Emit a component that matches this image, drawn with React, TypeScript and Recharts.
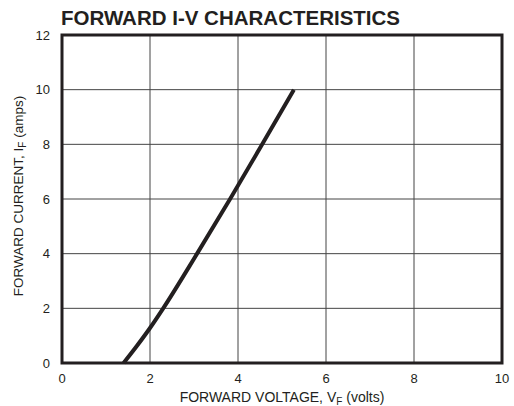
import React from "react";
import {
  LineChart,
  Line,
  XAxis,
  YAxis,
  CartesianGrid,
  ReferenceArea,
} from "recharts";

// forward voltage (V) vs forward current (A)
const voltage = [1.4, 1.7, 2.0, 2.3, 3.07, 3.82, 4.55, 5.27];
const current = [0, 0.62, 1.28, 2.0, 4.0, 6.0, 8.0, 10.0];

const xTicks = [0, 2, 4, 6, 8, 10];
const yTicks = [0, 2, 4, 6, 8, 10, 12];

const data = voltage.map((v, i) => ({ v, i: current[i] }));

const FONT = "'Liberation Sans', Arial, Helvetica, sans-serif";

const App: React.FC = () => {
  return (
    <div style={{ position: "fixed", left: 0, top: 0, width: 514, height: 406, background: "#fff" }}>
      <div
        style={{
          position: "absolute",
          left: 61,
          top: 6,
          fontFamily: FONT,
          fontWeight: "bold",
          fontSize: 20.5,
          color: "#231f20",
          lineHeight: "24px",
        }}
      >
        FORWARD I-V CHARACTERISTICS
      </div>
      <LineChart
        width={514}
        height={406}
        data={data}
        margin={{ top: 35, right: 12, bottom: 0, left: 0 }}
      >
        <CartesianGrid stroke="#444" strokeWidth={1} />
        <XAxis
          type="number"
          dataKey="v"
          domain={[0, 10]}
          ticks={xTicks}
          height={43}
          tickLine={false}
          axisLine={false}
          tick={{ fill: "#231f20", fontSize: 13, fontFamily: FONT }}
          tickMargin={5}
          label={({ viewBox }: any) => {
            const cx = viewBox.x + viewBox.width / 2;
            return (
              <text x={cx} y={402} textAnchor="middle" fill="#231f20" fontSize={14} fontFamily={FONT}>
                FORWARD VOLTAGE, V
                <tspan fontSize={10} dy={3}>F</tspan>
                <tspan dy={-3}> (volts)</tspan>
              </text>
            );
          }}
        />
        <YAxis
          type="number"
          domain={[0, 12]}
          ticks={yTicks}
          width={62}
          tickLine={false}
          axisLine={false}
          tick={{ fill: "#231f20", fontSize: 13, fontFamily: FONT }}
          tickMargin={6}
          label={() => (
            <text
              x={0}
              y={0}
              transform="translate(23, 196) rotate(-90)"
              textAnchor="middle"
              fill="#231f20"
              fontSize={13.5}
              fontFamily={FONT}
            >
              FORWARD CURRENT, I
              <tspan fontSize={10} dy={3}>F</tspan>
              <tspan dy={-3}> (amps)</tspan>
            </text>
          )}
        />
        <ReferenceArea
          x1={0}
          x2={10}
          y1={0}
          y2={12}
          fill="none"
          fillOpacity={0}
          stroke="#231f20"
          strokeWidth={3}
        />
        <Line
          type="monotone"
          dataKey="i"
          stroke="#231f20"
          strokeWidth={4}
          dot={false}
          isAnimationActive={false}
        />
      </LineChart>
    </div>
  );
};

export default App;
